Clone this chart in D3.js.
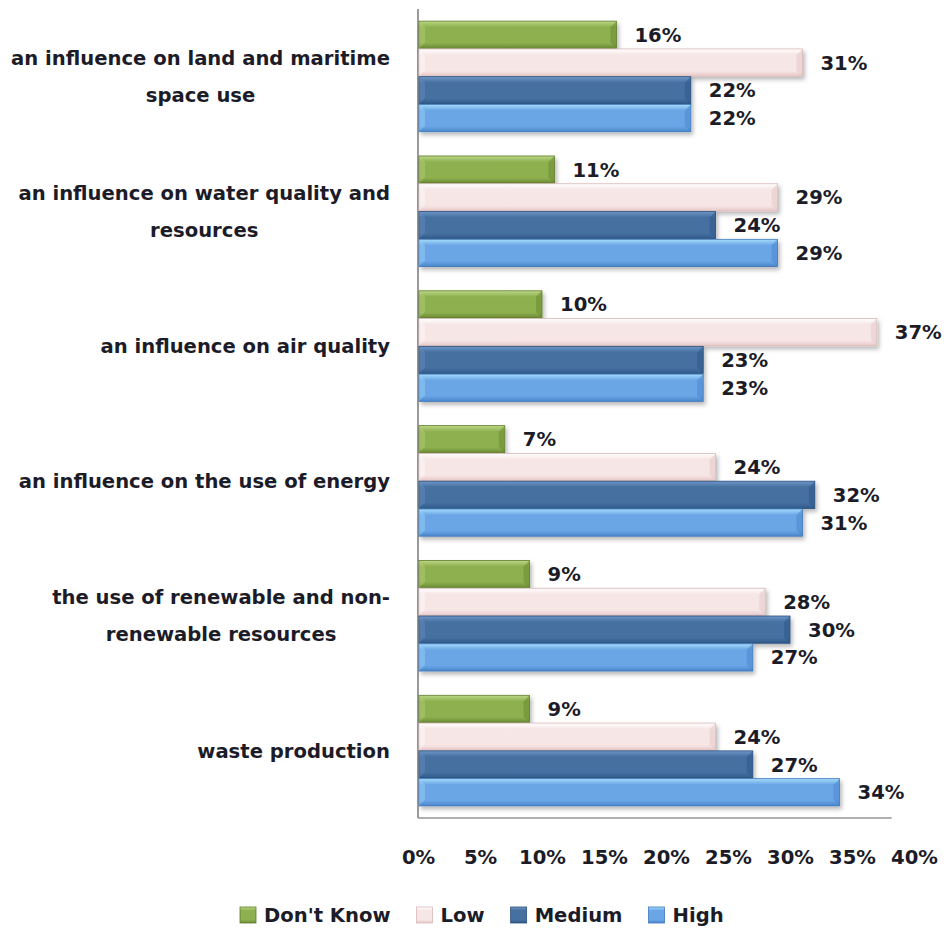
<!DOCTYPE html>
<html>
<head>
<meta charset="utf-8">
<script src="https://cdn.jsdelivr.net/npm/d3@7"></script>
<style>
  html, body { margin: 0; padding: 0; background: #fff; }
  svg { display: block; }
  text { font-family: "DejaVu Sans", sans-serif; font-weight: bold; fill: #1c1c28; }
</style>
</head>
<body>
<svg id="chart" width="947" height="929"></svg>
<script>
// Survey: perceived level of each environmental influence
const categories = [
  ["an influence on land and maritime", "space use"],
  ["an influence on water quality and", "resources"],
  ["an influence on air quality"],
  ["an influence on the use of energy"],
  ["the use of renewable and non-", "renewable resources"],
  ["waste production"]
];
const seriesNames = ["Don't Know", "Low", "Medium", "High"];
const dontKnow = [16, 11, 10, 7, 9, 9];
const low      = [31, 29, 37, 24, 28, 24];
const medium   = [22, 24, 23, 32, 30, 27];
const high     = [22, 29, 23, 31, 27, 34];
const xTicks   = [0, 5, 10, 15, 20, 25, 30, 35, 40];

const seriesValues = [dontKnow, low, medium, high];
const palette = [
  { top: "#bcd886", mid: "#8fb050", bot: "#6a8a32", edge: "#5e7c2a" },
  { top: "#ffffff", mid: "#f7e6e6", bot: "#e8c9c9", edge: "#d9b8b8" },
  { top: "#6f96c8", mid: "#45709f", bot: "#2f5a8c", edge: "#2a4f7c" },
  { top: "#a6dcfc", mid: "#6aa6e6", bot: "#4a86cc", edge: "#3f78ba" }
];
const fontSize = 19.6;

const svg = d3.select("#chart");
const defs = svg.append("defs");

palette.forEach((p, i) => {
  const g = defs.append("linearGradient")
    .attr("id", "grad" + i).attr("x1", 0).attr("y1", 0).attr("x2", 0).attr("y2", 1);
  g.append("stop").attr("offset", "0%").attr("stop-color", p.top);
  g.append("stop").attr("offset", "22%").attr("stop-color", p.mid);
  g.append("stop").attr("offset", "80%").attr("stop-color", p.mid);
  g.append("stop").attr("offset", "100%").attr("stop-color", p.bot);
});

const shadow = defs.append("filter").attr("id", "shadow")
  .attr("x", "-5%").attr("y", "-30%").attr("width", "115%").attr("height", "180%");
shadow.append("feDropShadow").attr("dx", 2).attr("dy", 3)
  .attr("stdDeviation", 2).attr("flood-color", "#000").attr("flood-opacity", 0.28);

const margin = { left: 418, top: 9, bottom: 818 };
const x = d3.scaleLinear().domain([0, 40]).range([margin.left, 914]);
const y0 = d3.scaleBand().domain(d3.range(categories.length))
  .range([margin.top, margin.bottom]).paddingInner(0.18).paddingOuter(0.09);
const y1 = d3.scaleBand().domain(d3.range(seriesNames.length))
  .range([0, y0.bandwidth()]).paddingInner(0.02);

// floor and wall of the plot area
svg.append("line")
  .attr("x1", x(0)).attr("x2", x(38.2))
  .attr("y1", margin.bottom).attr("y2", margin.bottom)
  .attr("stroke", "#b0b0b0").attr("stroke-width", 2);
svg.append("line")
  .attr("x1", x(0)).attr("x2", x(0))
  .attr("y1", margin.top).attr("y2", margin.bottom)
  .attr("stroke", "#9a9a9a").attr("stroke-width", 2);

// bars
const groups = svg.append("g").selectAll("g")
  .data(categories).join("g")
  .attr("transform", (d, i) => `translate(0,${y0(i)})`);

const bars = groups.selectAll("g.bar")
  .data((d, ci) => seriesValues.map((vals, si) => ({ si, ci, v: vals[ci] })))
  .join("g").attr("class", "bar");

bars.append("rect")
  .attr("x", x(0) + 1)
  .attr("y", d => y1(d.si))
  .attr("width", d => x(d.v) - x(0) - 1)
  .attr("height", y1.bandwidth())
  .attr("fill", d => `url(#grad${d.si})`)
  .attr("stroke", d => palette[d.si].edge)
  .attr("stroke-width", 0.8)
  .attr("filter", "url(#shadow)");

// bevel at the bar end
bars.append("path")
  .attr("d", d => {
    const xe = x(d.v), yt = y1(d.si), h = y1.bandwidth(), b = 6;
    return `M${xe},${yt} L${xe - b},${yt + b} L${xe - b},${yt + h - b} L${xe},${yt + h} Z`;
  })
  .attr("fill", d => palette[d.si].bot).attr("opacity", 0.55);

// bevel at the bar start
bars.append("path")
  .attr("d", d => {
    const xs = x(0) + 1, yt = y1(d.si), h = y1.bandwidth(), b = 6;
    return `M${xs},${yt} L${xs + b},${yt + b} L${xs + b},${yt + h - b} L${xs},${yt + h} Z`;
  })
  .attr("fill", d => palette[d.si].top).attr("opacity", 0.35);

// value labels
bars.append("text")
  .attr("x", d => x(d.v) + 18)
  .attr("y", d => y1(d.si) + y1.bandwidth() / 2)
  .attr("dy", "0.36em")
  .attr("font-size", fontSize)
  .text(d => d.v + "%");

// category labels: block right-aligned to the axis, lines centred in the block
const labelRight = 390;
groups.each(function (lines, i) {
  const g = d3.select(this);
  const lh = 37;
  const cy = y0.bandwidth() / 2;
  const texts = g.selectAll("text.cat").data(lines).join("text")
    .attr("class", "cat")
    .attr("font-size", fontSize)
    .attr("text-anchor", "middle")
    .attr("y", (d, k) => cy + (k - (lines.length - 1) / 2) * lh)
    .attr("dy", "0.36em")
    .text(d => d);
  let maxW = 0;
  texts.each(function () { maxW = Math.max(maxW, this.getComputedTextLength()); });
  texts.attr("x", labelRight - maxW / 2);
});

// x axis tick labels
const xAxis = d3.axisBottom(x).tickValues(xTicks).tickSize(0).tickPadding(0)
  .tickFormat(d => d + "%");
const axG = svg.append("g").attr("transform", `translate(0,${margin.bottom + 33})`).call(xAxis);
axG.select(".domain").remove();
axG.selectAll("text").attr("font-size", fontSize).attr("font-family", null)
  .attr("fill", "#1c1c28").attr("dy", "0.36em").attr("y", 6);

// legend
const legend = svg.append("g").attr("transform", "translate(0,915)");
const items = legend.selectAll("g").data(seriesNames).join("g");
items.append("rect")
  .attr("y", -8).attr("width", 16).attr("height", 16)
  .attr("fill", (d, i) => `url(#grad${i})`)
  .attr("stroke", (d, i) => palette[i].edge).attr("stroke-width", 0.8);
items.append("text")
  .attr("x", 24).attr("dy", "0.36em").attr("font-size", fontSize)
  .text(d => d);
let lx = 240;
items.each(function () {
  const w = d3.select(this).select("text").node().getComputedTextLength();
  d3.select(this).attr("transform", `translate(${lx},0)`);
  lx += 24 + w + 26;
});
</script>
</body>
</html>
